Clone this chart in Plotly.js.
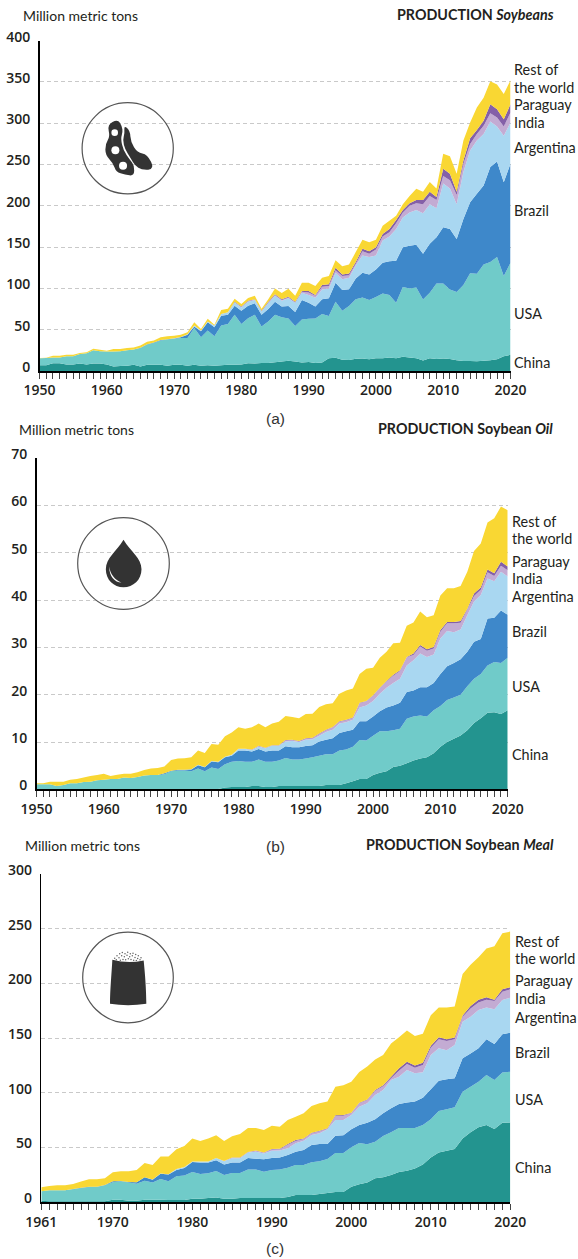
<!DOCTYPE html>
<html>
<head>
<meta charset="utf-8">
<script src="https://cdn.plot.ly/plotly-3.0.1.min.js"></script>
<style>html,body{margin:0;padding:0;background:#fff}#chart{width:578px;height:1259px}</style>
</head>
<body>
<div id="chart"></div>
<script>
const seriesNames = ['China','USA','Brazil','Argentina','India','Paraguay','Rest of the world'];
const seriesColors = ['#23948f','#70cbc9','#3e88ca','#a9d7f1','#c3abd3','#8460a8','#f9d733'];

// Tops of each stacked band (million metric tons)
const soyYears = Array.from({length:71},(_,i)=>1950+i);
const soyChina = [6.9,7,9.5,9.5,8,8,9,8,9,9, 8,5.5,6,6.5,7.5,5.5,7.5,7.5,7.5,6.5, 7.5,7.5,6.5,7.5,6.5,7,6.5,7,7.5,7.5, 8,9.3,9,9.8,9.7,10.5,11.6,12.5,11.5,10.2, 11,9.7,10.3,15.3,16,13.5,13.2,14.7,15.2,14.3, 15.4,15.4,16.5,15.4,17.4,16.4,15.5,12.7,15.5,14.5, 15,14.5,13,12,12.2,11.8,12.5,13,14.2,18,19.6];
const soyUSA = [15.5,15.7,16.5,16.5,18,18,20.5,21.5,25,24, 23.5,23.5,24,25,26,28,32,34,37,38, 39,40,40,52,41,49,42,55,57,68, 57,64,68,54,60,68,65,63.7,54.4,62.5, 63.3,63.7,69,66.5,84,73,78.6,87,89,86, 89.5,94,92,82.7,101.6,100,101,86.7,94.8,106, 106,98.8,95.6,104,118.5,117.7,129,132,138,115,131];
const soyBrazil = [15.5,15.7,16.5,16.5,18,18,20.5,21.5,25,24, 23.5,23.5,24,25,26,28.3,32.5,34.5,37.5,38.5, 39.5,41,44,54,48,59,53,67,68,79, 73,79,82,68,75,84,78,78.6,71.4,86, 82.7,78,87,88,107,98,99,112,119,117, 123,131,133,133.5,150,151.6,153,142,154,162, 174,172,160,184,204.5,214.6,224.7,247,253.7,228.7,251];
const soyArgentina = [15.5,15.7,16.5,16.5,18,18,20.5,21.5,25,24, 23.5,23.5,24,25,26,28.3,32.5,34.5,37.5,38.5, 39.6,41.2,44.5,55,49,60,55,69,71,83, 77,84,86,72,82,91,85,88,82.7,94.7, 92,88.7,98.8,100,119,111,113,128,140,138, 140,158,163,172,186,192,195,191,202,197, 227,221,202,241,267,279,287,302,296,285,301];
const soyIndia = [15.5,15.7,16.5,16.5,18,18,20.5,21.5,25,24, 23.5,23.5,24,25,26,28.3,32.5,34.5,37.5,38.5, 39.6,41.2,44.5,55,49,60,55,69,71,83.3, 77.5,84.5,86.5,72.5,83,92,86,89,83,96, 95,91,102,103,122,115,116,130,145,142, 147,163,168,179,192,200,203,202,212,207, 236,231,213,251,275,287,297,312,307,296,313];
const soyParaguay = [15.5,15.7,16.5,16.5,18,18,20.5,21.5,25,24, 23.5,23.5,24,25,26,28.3,32.5,34.5,37.5,38.5, 39.6,41.2,44.5,55,49,60,55,69,71,84, 78,85,87,73,84,93,87,90,84,97, 97,92,104,105,125,117,118,132,148,145, 150,166,172,183,195,203,207,207,217,210.6, 245,239,217,255,282,292,303,323,317,305,323];
const soyRest = [15.7,16,18.5,18.5,19.8,19.8,21.8,22.6,27,25.8, 24.6,26.6,26.6,27.8,28.6,31,35.5,37,41,42, 42.7,44,46.8,58.9,50.8,63.3,56,74,75.4,87.5, 81,88.3,91,75.4,87,100,94.4,99.6,91,107, 107,103,113,115,134,127,129,144,159,156, 159,176,182,188,202,212,220.6,217,229,221, 263,260,239,279,301,319,331,351,347,335.5,352];

const oilYears = Array.from({length:71},(_,i)=>1950+i);
const oilChina = [0,0,0,0,0,0,0,0,0,0, 0,0,0,0,0,0,0,0,0,0, 0,0,0,0,0,0,0,0.05,0.4,0.5, 0.5,0.5,0.7,0.7,0.5,0.5,0.7,0.7,0.7,0.7, 0.7,0.7,0.7,0.9,0.9,0.9,1.3,1.7,2.2,2.2, 3,3.5,3.8,4.7,5,5.5,6.1,6.5,6.8,7.6, 9,10,10.7,11.4,12.5,14,15,16.2,16.3,15.9,16.7];
const oilUSA = [1.05,1.05,1.05,0.7,0.9,1.3,1.3,1.55,1.6,1.9, 2,2.2,2.2,2.5,2.4,2.6,2.9,3,3,3.2, 3.8,4,4,3.8,4.4,3.8,4.6,4.3,5.3,5.8, 6,5.8,5.8,6.3,5.8,5.8,6.1,6.6,6.3,6.3, 6.5,6.8,7.1,7.4,7.4,8.2,8.4,9,10.4,10.3, 11.3,12.3,12.3,12.5,12.8,14.9,15.4,15.6,15.4,16.7, 17.6,18.9,19.4,20,21.8,23.4,24.4,26.2,26.9,26.7,27.8];
const oilBrazil = [1.05,1.05,1.05,0.7,0.9,1.3,1.3,1.55,1.6,1.9, 2,2.2,2.2,2.5,2.4,2.6,2.9,3,3.05,3.4, 3.9,4.15,4.15,4.2,5.1,4.65,5.9,5.7,6.8,7.1, 8.2,8.2,8,8.5,8,8.2,8.2,9.1,8.9,8.9, 9.15,9.3,10.1,10.5,10.8,11.9,12.3,12.6,14.4,14.4, 15.4,16.5,17.3,17.7,18.3,20.6,20.9,21.6,21.6,22.5, 24.4,26,26.7,27.5,29.1,31.2,31.8,36.1,36.3,37.8,36.9];
const oilArgentina = [1.05,1.05,1.05,0.7,0.9,1.3,1.3,1.55,1.6,1.9, 2,2.2,2.2,2.5,2.4,2.6,2.9,3,3.05,3.4, 3.9,4.15,4.15,4.25,5.2,4.7,6,5.8,6.9,7.3, 8.5,8.5,8.3,9,8.7,9.2,9.2,10.1,10.2,10, 10.5,10.6,11.3,12.1,12.6,13.9,14.2,14.7,17.3,17.7, 18.7,20.2,21.5,22.5,23.4,26.2,27.3,28.7,28,28.5, 31.9,33.5,33.2,33.8,36.8,39.7,41.1,44.6,44,46,45];
const oilIndia = [1.05,1.05,1.05,0.7,0.9,1.3,1.3,1.55,1.6,1.9, 2,2.2,2.2,2.5,2.4,2.6,2.9,3,3.05,3.4, 3.9,4.15,4.15,4.25,5.2,4.7,6,5.8,6.9,7.3, 8.55,8.55,8.35,9.15,8.75,9.25,9.25,10.3,10.4,10.1, 10.7,10.8,11.7,12.5,13.1,14.3,14.6,15.1,18.2,18.6, 19.8,21.4,22.8,24,25,27.9,28.4,30.2,29.3,29.8, 33.3,35.1,35.1,35.2,38,40.9,42.2,45.9,45.1,47.3,46.3];
const oilParaguay = [1.05,1.05,1.05,0.7,0.9,1.3,1.3,1.55,1.6,1.9, 2,2.2,2.2,2.5,2.4,2.6,2.9,3,3.05,3.4, 3.9,4.15,4.15,4.25,5.2,4.7,6,5.8,6.9,7.3, 8.6,8.6,8.4,9.2,8.8,9.3,9.3,10.4,10.5,10.2, 10.8,10.9,11.8,12.6,13.2,14.4,14.7,15.2,18.3,18.7, 19.9,21.5,22.9,24.2,25.2,28,28.7,30.5,29.6,30.1, 33.7,35.4,35.4,35.6,38.2,41.4,42.7,46.5,45.7,48.1,47.1];
const oilRest = [1.3,1.3,1.6,1.6,1.6,2,2.2,2.5,2.8,3, 3.3,2.8,3.1,3.3,3.3,3.6,4.1,4.4,4.5,4.8, 6.2,6.5,6.55,6.8,8.2,7.7,9.6,9.4,11.2,12, 13.1,12.8,13.1,13.9,13.1,13.9,14.3,15.5,15.3,15, 15.9,16,17.4,18,18.2,20.2,20.9,21.3,24.4,25.5, 25.7,27.8,29.1,30.9,31,34.6,35.3,37.6,36.4,36.8, 41,42.5,42.5,43,46,50.4,52,56.4,57.3,59.8,59];

const mealYears = Array.from({length:60},(_,i)=>1961+i);
const mealChina = [1.5,1,1,1,1,1,1,1,1, 2.4,2.4,1.5,1.5,2.4,2.4,2.4,2.1,2.1,2.1, 3.3,3.3,4,4.5,3.3,3.3,4,4,4,4, 4,4,4.9,6.7,6.7,6.7,7.6,8.5,9.4,9.4, 14.3,16.4,18.2,21.9,22.8,24.9,27.6,28.9,31,34.6, 41,45.4,47.2,48.7,58.4,63.9,68.5,70.6,67,72.8,73];
const mealUSA = [10,11,11,11,11.9,13,14,14,15.5, 18.3,19.2,18,17,19.8,18,21.3,19.2,23.8,24.4, 27.7,25.9,26.5,28.7,25,26.8,26.8,29.9,29.9,28, 29.6,30,31.6,34,34,36.5,37.4,39.5,45,45, 50.2,54.2,53,55.4,60.6,63.9,67.9,67.9,67.9,70.6, 76,83.4,85,86.8,101,105.7,110.2,116.3,111.8,118.5,119.4];
const mealBrazil = [10,11,11,11,12.1,13.2,14.2,14.2,15.7, 19.2,19.5,18.6,18.3,22.9,20.7,26.2,25.3,29.6,31.4, 36.9,36.3,36.3,38.4,34.5,36.3,36.3,40.5,39.9,39.3, 40.5,40.9,43.2,46.2,47.8,52.3,53.3,53.3,60.9,61.2, 66.7,70.6,72.8,76,81.3,85.9,89.8,91.3,92,95.6, 103.2,111,112.4,113.3,131.6,136,140.7,148.9,144.7,153.5,155];
const mealArgentina = [10,11,11,11,12.1,13.2,14.2,14.2,15.7, 19.2,19.5,18.6,18.4,23,20.9,26.4,25.6,30.4,32.3, 37.2,37.2,37.2,40.5,37.5,40.2,40.2,45.4,46.3,44.5, 47,47.3,49.3,53.9,56.3,61.5,63,66.7,75.2,75.2, 79.8,87.4,90.4,98,102.6,111.8,114.8,120.9,117.9,118.8, 134.6,140.7,139,143.8,165,169.6,175.7,178,176.4,184.9,187];
const mealIndia = [10,11,11,11,12.1,13.2,14.2,14.2,15.7, 19.2,19.5,18.6,18.4,23,20.9,26.4,25.6,30.4,32.3, 37.2,37.2,37.2,40.5,37.7,40.8,40.8,45.8,47,45.2, 48.2,48.5,52.6,56,57.8,63,65,67.2,78.8,79.2, 81.5,90.4,93.4,101.9,106,113.3,120.3,126.4,123,125.5, 141.3,148.9,147.4,148.9,169.6,177,182.5,185,184,192.5,194.6];
const mealParaguay = [10,11,11,11,12.1,13.2,14.2,14.2,15.7, 19.2,19.5,18.6,18.4,23,20.9,26.4,25.6,30.4,32.3, 37.2,37.2,37.2,40.5,37.8,41,41,46,47.3,45.5, 48.6,48.9,53.3,56.9,58.4,63.6,65.4,67.6,79.5,79.8, 81.9,91,94,102.6,107,114.8,122.4,128.5,124.9,127.6, 143,150.8,149,150.5,170.6,179.4,185,187.3,185,194.6,196.5];
const mealRest = [13.7,15,15.5,15.5,16.8,18.9,21,21,22, 27.4,28.4,28.4,29.6,36,34,41.8,41.8,48.5,51.5, 58.2,56,58.2,61.3,56,60.4,62.5,68,68,66, 70,69,75.2,78.2,81.3,88,90.4,92,105.7,107, 110.2,119,124,130.6,134.6,145,150.8,157,152,154, 171,178,178,179,208.7,217,224,232,234,245.8,247.4];

const soyBands = [soyChina,soyUSA,soyBrazil,soyArgentina,soyIndia,soyParaguay,soyRest];
const oilBands = [oilChina,oilUSA,oilBrazil,oilArgentina,oilIndia,oilParaguay,oilRest];
const mealBands = [mealChina,mealUSA,mealBrazil,mealArgentina,mealIndia,mealParaguay,mealRest];
const soyTickLabels = [1950,1960,1970,1980,1990,2000,2010,2020];
const oilTickLabels = [1950,1960,1970,1980,1990,2000,2010,2020];
const mealTickLabels = [1961,1970,1980,1990,2000,2010,2020];

const W = 578, H = 1259;
const px = x => x / W, py = y => 1 - y / H;
const FONT = '"Open Sans", sans-serif';
const LABEL = 'Lato, "Open Sans", sans-serif';
const INK = '#231f20';

const traces = [];
function addBands(years, bands, xa, ya){
  bands.forEach((top,i)=>{
    traces.push({x:years,y:top,xaxis:xa,yaxis:ya,type:'scatter',mode:'none',
      name:seriesNames[i],fill:i===0?'tozeroy':'tonexty',fillcolor:seriesColors[i],
      line:{shape:'linear',width:0},hoverinfo:'x+y+name',showlegend:false});
  });
}
addBands(soyYears,soyBands,'x','y');
addBands(oilYears,oilBands,'x2','y2');
addBands(mealYears,mealBands,'x3','y3');

function xAxis(x0,x1,range,years,shown){
  return {domain:[px(x0),px(x1)],range:range,fixedrange:true,
    tickmode:'array',tickvals:years,ticktext:years.map(v=>shown.includes(v)?String(v):''),
    ticks:'outside',ticklen:6,tickwidth:1,tickcolor:'#444',
    showgrid:false,zeroline:false,showline:true,linecolor:'#000',linewidth:1.5,
    tickfont:{family:FONT,size:14,color:INK,weight:600},ticklabelstandoff:0};
}
function yAxis(top,bottom,range,dtick){
  return {domain:[py(bottom),py(top)],range:range,dtick:dtick,tick0:0,fixedrange:true,
    ticks:'',showgrid:true,gridcolor:'#c9c9c9',griddash:'4px,3px',gridwidth:1,zeroline:false,
    showline:true,linecolor:'#000',linewidth:1.5,
    tickfont:{family:FONT,size:14,color:INK,weight:600},ticklabelshift:-4,ticklabelstandoff:5};
}

const annotations = [];
function text(x,y,t,opts){
  annotations.push(Object.assign({xref:'paper',yref:'paper',x:px(x),y:py(y),text:t,showarrow:false,
    xanchor:'left',yanchor:'middle',font:{family:LABEL,size:14.4,color:INK},align:'left',borderpad:0},opts||{}));
}
function labels(x,ys){
  ['Rest of','the world','Paraguay','India','Argentina','Brazil','USA','China'].forEach((t,i)=>text(x,ys[i],t,{}));
}
labels(513,[70,87,105,122,147,211,313,362]);
labels(511,[521,538,561,578,597,631,686,754]);
labels(514,[941,958,980,998,1017,1052,1099,1167]);
const unitFont = {family:LABEL,size:14,color:INK};
text(22,15,'Million metric tons',{font:unitFont});
text(18,430,'Million metric tons',{font:unitFont});
text(24,845,'Million metric tons',{font:unitFont});
const headFont = {family:LABEL,size:14.3,color:INK};
text(555,14,'<b>PRODUCTION <i>Soybeans</i></b>',{xanchor:'right',font:headFont});
text(554,429,'<b>PRODUCTION Soybean <i>Oil</i></b>',{xanchor:'right',font:headFont});
text(555,844,'<b>PRODUCTION Soybean <i>Meal</i></b>',{xanchor:'right',font:headFont});
const capFont = {family:'"Liberation Sans", Arial, sans-serif',size:15.5,color:'#333'};
text(275,418,'(a)',{xanchor:'center',font:capFont});
text(275,846,'(b)',{xanchor:'center',font:capFont});
text(275,1248,'(c)',{xanchor:'center',font:capFont});

// Icons: outlines in 3x zoom coordinates around each circle's centre
const shapes = [];
function circle(cx,cy,r,fill,line){
  shapes.push({type:'circle',xref:'paper',yref:'paper',x0:px(cx-r),x1:px(cx+r),y0:py(cy+r),y1:py(cy-r),
    fillcolor:fill,line:line||{width:0},layer:'above'});
}
function smoothOutline(c){
  const mid=(a,b)=>[(a[0]+b[0])/2,(a[1]+b[1])/2];
  const start=mid(c[c.length-1],c[0]);
  const cmds=[['M',start[0],start[1]]];
  c.forEach((p,i)=>{const m=mid(p,c[(i+1)%c.length]);cmds.push(['Q',p[0],p[1],m[0],m[1]]);});
  cmds.push(['Z']);
  return cmds;
}
function pathFrom(cx,cy,ox,oy,cmds,fill){
  const d = cmds.map(c=>{
    if(c.length===1) return c[0];
    const pts=[];
    for(let i=1;i<c.length;i+=2) pts.push(px(cx+(c[i]-ox)/3)+','+py(cy+(c[i+1]-oy)/3));
    return c[0]+pts.join(' ');
  }).join(' ');
  shapes.push({type:'path',xref:'paper',yref:'paper',path:d,fillcolor:fill,line:{width:0},layer:'above'});
}
const ring = {color:'#555',width:1.2};
circle(127.7,148.3,45.6,'rgba(0,0,0,0)',ring);
circle(123.5,563.5,45.8,'rgba(0,0,0,0)',ring);
circle(128,977.5,45.3,'rgba(0,0,0,0)',ring);
const DARK='#333333';
// bean pods
pathFrom(127.7,148.3,383,445,smoothOutline([[322,374],[353,358],[366,378],[368,398],[362,415],[370,452],[390,480],[403,497],[402,528],[375,524],[348,516],[340,490],[316,465],[316,432],[330,410]]),DARK);
pathFrom(127.7,148.3,383,445,smoothOutline([[372,376],[390,392],[392,425],[412,458],[442,463],[464,508],[425,510],[405,497],[392,475],[375,448],[368,420],[374,400]]),DARK);
[[344,398,3.3],[346,451,4],[369,497,4]].forEach(s=>circle(127.7+(s[0]-383)/3,148.3+(s[1]-445)/3,s[2],'#fff'));
// oil drop
pathFrom(123.5,563.5,371,431,[['M',371,360],['C',350,395,318,415,318,448],['C',318,480,342,502,371,502],['C',400,502,425,480,425,448],['C',425,415,392,395,371,360],['Z']],DARK);
pathFrom(123.5,563.5,371,431,[['M',328,440],['C',332,465,345,480,365,488],['C',345,488,328,470,328,440],['Z']],'#fff');
// meal sack and its grains
pathFrom(128,977.5,385,443,[['M',338,390],['Q',385,402,432,392],['C',436,430,440,480,440,522],['Q',385,530,331,522],['C',331,480,336,430,338,390],['Z']],DARK);
[[345,385],[352,378],[360,372],[368,368],[376,372],[384,367],[392,372],[400,370],[408,374],[416,378],[424,384],[350,390],[358,384],[366,378],[374,381],[382,376],[390,381],[398,378],[406,383],[414,386],[421,390],[362,391],[370,389],[378,390],[386,387],[394,389],[402,391],[410,392]].forEach(g=>{
  circle(128+(g[0]-385)/3,977.5+(g[1]-443)/3,0.75,'#666');
});

const layout = {
  width:W,height:H,margin:{l:0,r:0,t:0,b:0,pad:0},paper_bgcolor:'#fff',plot_bgcolor:'#fff',showlegend:false,
  font:{family:FONT},
  xaxis:Object.assign(xAxis(39.5,510.5,[1950,2020],soyYears,soyTickLabels),{anchor:'y'}),
  yaxis:Object.assign(yAxis(40.7,371,[0,400],50),{anchor:'x'}),
  xaxis2:Object.assign(xAxis(36.5,507.7,[1950,2020],oilYears,oilTickLabels),{anchor:'y2'}),
  yaxis2:Object.assign(yAxis(458.3,789.3,[0,70],10),{anchor:'x2'}),
  xaxis3:Object.assign(xAxis(41.3,510.3,[1961,2020],mealYears,mealTickLabels),{anchor:'y3'}),
  yaxis3:Object.assign(yAxis(874,1202.3,[0,300],50),{anchor:'x3'}),
  annotations:annotations,shapes:shapes
};
Plotly.newPlot('chart',traces,layout,{staticPlot:true,displayModeBar:false});
</script>
</body>
</html>
